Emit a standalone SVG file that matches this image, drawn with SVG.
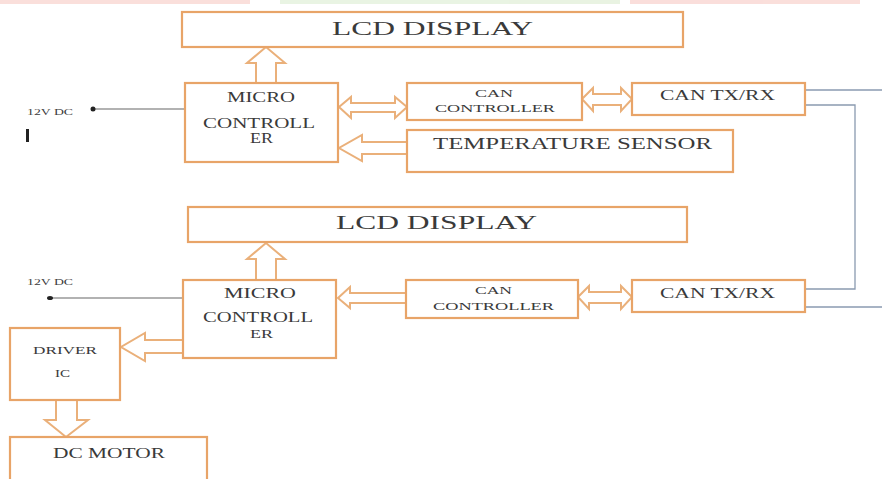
<svg xmlns="http://www.w3.org/2000/svg" width="882" height="479" viewBox="0 0 882 479">
<style>
.box{fill:#fff;stroke:#e8a468;stroke-width:2.2}
.arr{fill:#fff;stroke:#eab07a;stroke-width:2}
.t{font-family:"Liberation Serif",serif;fill:#3a3a3a}
.wire{fill:none;stroke:#8a9ab0;stroke-width:1.3}
.gw{fill:none;stroke:#999;stroke-width:1.3}
</style>
<rect width="882" height="479" fill="#fff"/>
<g opacity="0.45">
<rect x="0" y="0" width="250" height="4" fill="#f4b8b0"/>
<rect x="280" y="0" width="340" height="4" fill="#cfe6c0"/>
<rect x="630" y="0" width="230" height="4" fill="#f4b8b0"/>
</g>
<g id="connectors">
<line class="gw" x1="93" y1="109" x2="185" y2="109"/>
<circle cx="93" cy="109" r="2.5" fill="#222"/>
<line class="gw" x1="50" y1="298" x2="183" y2="298"/>
<ellipse cx="50" cy="298" rx="3" ry="2" fill="#222"/>
<rect x="26" y="129" width="3" height="13" fill="#222"/>
<polyline class="wire" points="805,90 882,90"/>
<polyline class="wire" points="805,105 855,105 855,289 805,289"/>
<polyline class="wire" points="805,307 882,307"/>
<path class="arr" d="M256,83 V63 H247 L266,47 L285,63 H276 V83"/>
<path class="arr" d="M256,280 V259 H247 L266,243 L285,259 H276 V280"/>
<path class="arr" d="M339,107 L351,97 V103 H395 V97 L407,107 L395,118 V112 H351 V118 Z"/>
<path class="arr" d="M582,99 L593,88 V94 H621 V88 L632,99 L621,111 V105 H593 V111 Z"/>
<path class="arr" d="M407,142 H362 V135 L339,148 L362,161 V154 H407"/>
<path class="arr" d="M406,293 H350 V287 L338,298 L350,308 V303 H406" stroke="#e9b060"/>
<path class="arr" d="M578,297 L589,286 V292 H621 V286 L632,297 L621,309 V303 H589 V309 Z"/>
<path class="arr" d="M183,340 H145 V333 L121,347 L145,361 V353 H183"/>
<path class="arr" d="M56,400 V420 H45 L66,437 L88,420 H77 V400"/>
</g>
<g id="lcd1">
<rect class="box" x="182" y="12" width="501" height="35"/>
<text class="t" x="332" y="35" font-size="18" textLength="201" lengthAdjust="spacingAndGlyphs">LCD DISPLAY</text>
</g>
<g id="mc1">
<rect class="box" x="185" y="83" width="153" height="79"/>
<text class="t" x="227" y="102" font-size="15" textLength="68" lengthAdjust="spacingAndGlyphs">MICRO</text>
<text class="t" x="203" y="128" font-size="15" textLength="112" lengthAdjust="spacingAndGlyphs">CONTROLL</text>
<text class="t" x="250" y="143" font-size="14" textLength="23" lengthAdjust="spacingAndGlyphs">ER</text>
</g>
<g id="canctrl1">
<rect class="box" x="407" y="83" width="175" height="37"/>
<text class="t" x="475" y="97" font-size="11" textLength="38" lengthAdjust="spacingAndGlyphs">CAN</text>
<text class="t" x="435" y="112" font-size="11" textLength="120" lengthAdjust="spacingAndGlyphs">CONTROLLER</text>
</g>
<g id="txrx1">
<rect class="box" x="632" y="83" width="173" height="32"/>
<text class="t" x="660" y="100" font-size="14" textLength="115" lengthAdjust="spacingAndGlyphs">CAN TX/RX</text>
</g>
<g id="temp">
<rect class="box" x="407" y="130" width="326" height="42"/>
<text class="t" x="433" y="149" font-size="16" textLength="279" lengthAdjust="spacingAndGlyphs">TEMPERATURE SENSOR</text>
</g>
<g id="v1">
<text class="t" x="27" y="115" font-size="8" textLength="46" lengthAdjust="spacingAndGlyphs">12V DC</text>
</g>
<g id="lcd2">
<rect class="box" x="188" y="207" width="499" height="35"/>
<text class="t" x="336" y="229" font-size="18" textLength="201" lengthAdjust="spacingAndGlyphs">LCD DISPLAY</text>
</g>
<g id="mc2">
<rect class="box" x="183" y="280" width="153" height="78"/>
<text class="t" x="224" y="298" font-size="15" textLength="72" lengthAdjust="spacingAndGlyphs">MICRO</text>
<text class="t" x="203" y="322" font-size="14" textLength="110" lengthAdjust="spacingAndGlyphs">CONTROLL</text>
<text class="t" x="250" y="338" font-size="13" textLength="23" lengthAdjust="spacingAndGlyphs">ER</text>
</g>
<g id="canctrl2">
<rect class="box" x="406" y="280" width="172" height="38"/>
<text class="t" x="475" y="294" font-size="11" textLength="37" lengthAdjust="spacingAndGlyphs">CAN</text>
<text class="t" x="433" y="310" font-size="11" textLength="121" lengthAdjust="spacingAndGlyphs">CONTROLLER</text>
</g>
<g id="txrx2">
<rect class="box" x="632" y="280" width="173" height="32"/>
<text class="t" x="660" y="298" font-size="14" textLength="115" lengthAdjust="spacingAndGlyphs">CAN TX/RX</text>
</g>
<g id="v2">
<text class="t" x="27" y="285" font-size="8" textLength="46" lengthAdjust="spacingAndGlyphs">12V DC</text>
</g>
<g id="driver">
<rect class="box" x="10" y="328" width="110" height="72"/>
<text class="t" x="33" y="354" font-size="11" textLength="64" lengthAdjust="spacingAndGlyphs">DRIVER</text>
<text class="t" x="55" y="377" font-size="11" textLength="15" lengthAdjust="spacingAndGlyphs">IC</text>
</g>
<g id="motor">
<rect class="box" x="10" y="437" width="197" height="50"/>
<text class="t" x="53" y="458" font-size="14" textLength="112" lengthAdjust="spacingAndGlyphs">DC MOTOR</text>
</g>
</svg>
